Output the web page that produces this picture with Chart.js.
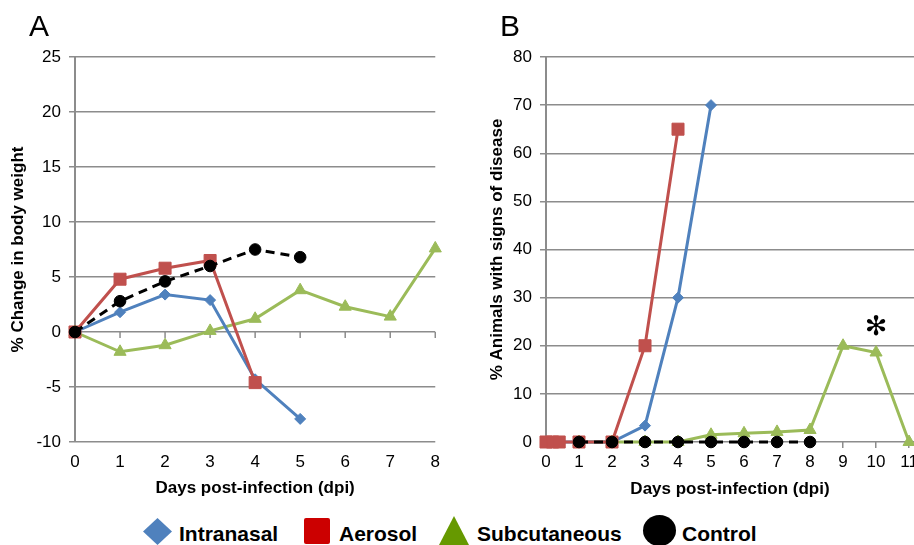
<!DOCTYPE html>
<html><head><meta charset="utf-8">
<script src="https://cdn.jsdelivr.net/npm/chart.js@4/dist/chart.umd.min.js"></script>
<style>
html,body{margin:0;padding:0;background:#fff;overflow:hidden;width:914px;height:545px}
#wrap{position:relative;width:914px;height:545px;overflow:hidden;background:#fff}
#cA{position:absolute;left:0;top:0;width:450px;height:510px}
#cB{position:absolute;left:470px;top:0;width:470px;height:510px}
.lab{position:absolute;font:30px "Liberation Sans",Arial,sans-serif;line-height:30px;color:#000}
.lt{position:absolute;font:bold 21px "Liberation Sans",Arial,sans-serif;line-height:21px;color:#000;white-space:nowrap}
svg.m{position:absolute;overflow:visible}
</style></head><body>
<div id="wrap">
<canvas id="cA" width="450" height="510"></canvas>
<canvas id="cB" width="470" height="510"></canvas>
<div class="lab" style="left:29px;top:11px">A</div>
<div class="lab" style="left:500px;top:11px">B</div>
<svg class="m" style="left:143px;top:518px" width="29" height="27"><polygon points="14.5,0 29,13.5 14.5,27 0,13.5" fill="#4f81bd"/></svg>
<div class="lt" style="left:179px;top:523px">Intranasal</div>
<svg class="m" style="left:304px;top:518px" width="26" height="26"><rect x="0" y="0" width="26" height="26" rx="2" fill="#cc0000"/></svg>
<div class="lt" style="left:339px;top:523px">Aerosol</div>
<svg class="m" style="left:439px;top:516px" width="30" height="29"><polygon points="15,0 30,29 0,29" fill="#669900"/></svg>
<div class="lt" style="left:477px;top:523px">Subcutaneous</div>
<svg class="m" style="left:643px;top:515px" width="33" height="31"><ellipse cx="16.5" cy="15.5" rx="16.5" ry="15.5" fill="#000"/></svg>
<div class="lt" style="left:682px;top:523px">Control</div>
</div>
<script>
// ---------- Panel A: % change in body weight ----------
const daysA = ['0','1','2','3','4','5','6','7','8'];
const intranasalA   = [0, 1.8, 3.4, 2.9, -4.3, -7.9, null, null, null];
const aerosolA      = [0, 4.8, 5.8, 6.5, -4.6, null, null, null, null];
const subcutaneousA = [0, -1.8, -1.2, 0.1, 1.2, 3.8, 2.3, 1.4, 7.6];
const controlA      = [0, 2.8, 4.6, 6.0, 7.5, 6.8, null, null, null];
const yTicksA = [-10, -5, 0, 5, 10, 15, 20, 25];

// ---------- Panel B: % animals with signs of disease ----------
const xTicksB = [0, 1, 2, 3, 4, 5, 6, 7, 8, 9, 10, 11];
const yTicksB = [0, 10, 20, 30, 40, 50, 60, 70, 80];
const intranasalBx   = [0, 1, 2, 3, 4, 5];
const intranasalBy   = [0, 0, 0, 3.4, 30, 70];
const aerosolBx      = [0, 0.2, 0.4, 1, 2, 3, 4];
const aerosolBy      = [0, 0, 0, 0, 0, 20, 65];
const subcutaneousBx = [1, 2, 3, 4, 5, 6, 7, 8, 9, 10, 11];
const subcutaneousBy = [0, 0, 0, 0, 1.5, 1.8, 2.1, 2.5, 20, 18.6, 0];
const controlBx      = [1, 2, 3, 4, 5, 6, 7, 8];
const controlBy      = [0, 0, 0, 0, 0, 0, 0, 0];
const asteriskB = {x: 10, y: 23.7, text: '\u273B'};

const FONT = '"Liberation Sans", Arial, Helvetica, sans-serif';
const GRID = '#8c8c8c';

const styles = {
  Intranasal:   {borderColor:'#4f81bd', backgroundColor:'#4f81bd', pointStyle:'rectRot', pointRadius:5.5, order:2},
  Aerosol:      {borderColor:'#c0504d', backgroundColor:'#c0504d', pointStyle:'rect', pointRadius:8.5, order:1},
  Subcutaneous: {borderColor:'#9bbb59', backgroundColor:'#9bbb59', pointStyle:'triangle', pointRadius:7, order:3},
  Control:      {borderColor:'#000000', backgroundColor:'#000000', pointStyle:'circle', pointRadius:5.8, order:0, borderDash:[9,6]}
};
function ds(label, data){
  return Object.assign({label, data, borderWidth:3, pointBorderWidth:1, pointHoverRadius:0, clip:false, tension:0, spanGaps:false}, styles[label]);
}
function xy(xs, ys){ return xs.map((x,i)=>({x, y:ys[i]})); }

const zeroTicks = {
  id:'zeroTicks',
  beforeDatasetsDraw(chart){
    const xs = chart.scales.x, ys = chart.scales.y, ctx = chart.ctx;
    const y0 = ys.getPixelForValue(0);
    ctx.save(); ctx.strokeStyle = GRID; ctx.lineWidth = 1.5;
    for (let i = 1; i < daysA.length; i++){
      const px = xs.getPixelForValue(i);
      ctx.beginPath(); ctx.moveTo(px, y0); ctx.lineTo(px, y0 + 6); ctx.stroke();
    }
    ctx.restore();
  }
};
const asterisk = {
  id:'asterisk',
  afterDatasetsDraw(chart){
    const ctx = chart.ctx;
    ctx.save();
    ctx.font = 'bold 27px "DejaVu Sans", sans-serif';
    ctx.fillStyle = '#000'; ctx.textAlign = 'center'; ctx.textBaseline = 'middle';
    ctx.fillText(asteriskB.text, chart.scales.x.getPixelForValue(asteriskB.x), chart.scales.y.getPixelForValue(asteriskB.y));
    ctx.restore();
  }
};

const common = {
  responsive:false, animation:false, devicePixelRatio:1,
  plugins:{legend:{display:false}, tooltip:{enabled:false}},
  events:[]
};
const tickFont = {family:FONT, size:17};
const titleFont = {family:FONT, size:17, weight:'bold'};

new Chart(document.getElementById('cA'), {
  type:'line',
  data:{labels:daysA, datasets:[
    ds('Intranasal', intranasalA), ds('Aerosol', aerosolA),
    ds('Subcutaneous', subcutaneousA), ds('Control', controlA)
  ]},
  options:Object.assign({}, common, {
    layout:{padding:{top:57, right:14, left:0, bottom:0}},
    scales:{
      x:{type:'category', offset:false,
         grid:{display:false, drawTicks:false}, border:{display:false},
         ticks:{color:'#000', font:tickFont, padding:10, maxRotation:0, autoSkip:false},
         title:{display:true, text:'Days post-infection (dpi)', color:'#000', font:titleFont, padding:{top:0, bottom:11}},
         afterFit(s){ s.height = 68; }},
      y:{type:'linear', min:yTicksA[0], max:yTicksA[yTicksA.length-1],
         afterBuildTicks(s){ s.ticks = yTicksA.map(v=>({value:v})); },
         grid:{color:GRID, lineWidth:1.5, tickLength:6, drawTicks:true},
         border:{display:true, color:GRID, width:2},
         ticks:{color:'#000', font:tickFont, padding:8},
         title:{display:true, text:'% Change in body weight', color:'#000', font:titleFont, padding:{top:8, bottom:0}},
         afterFit(s){ s.width = 75; }}
    }
  }),
  plugins:[zeroTicks]
});

new Chart(document.getElementById('cB'), {
  type:'scatter',
  data:{datasets:[
    Object.assign(ds('Intranasal', xy(intranasalBx, intranasalBy)), {showLine:true}),
    Object.assign(ds('Aerosol', xy(aerosolBx, aerosolBy)), {showLine:true}),
    Object.assign(ds('Subcutaneous', xy(subcutaneousBx, subcutaneousBy)), {showLine:true}),
    Object.assign(ds('Control', xy(controlBx, controlBy)), {showLine:true})
  ]},
  options:Object.assign({}, common, {
    layout:{padding:{top:57, right:26, left:0, bottom:0}},
    scales:{
      x:{type:'linear', min:0, max:11.15,
         afterBuildTicks(s){ s.ticks = xTicksB.map(v=>({value:v})); },
         grid:{display:true, drawOnChartArea:false, drawTicks:true, tickLength:6, color:GRID, lineWidth:1.5},
         border:{display:false},
         ticks:{color:'#000', font:tickFont, padding:4, maxRotation:0, autoSkip:false},
         title:{display:true, text:'Days post-infection (dpi)', color:'#000', font:titleFont, padding:{top:0, bottom:10}},
         afterFit(s){ s.height = 68; }},
      y:{type:'linear', min:yTicksB[0], max:yTicksB[yTicksB.length-1],
         afterBuildTicks(s){ s.ticks = yTicksB.map(v=>({value:v})); },
         grid:{color:GRID, lineWidth:1.5, tickLength:6, drawTicks:true},
         border:{display:true, color:GRID, width:2},
         ticks:{color:'#000', font:tickFont, padding:8},
         title:{display:true, text:'% Animals with signs of disease', color:'#000', font:titleFont, padding:{top:17, bottom:0}},
         afterFit(s){ s.width = 76; }}
    }
  }),
  plugins:[asterisk]
});
</script>
</body></html>
